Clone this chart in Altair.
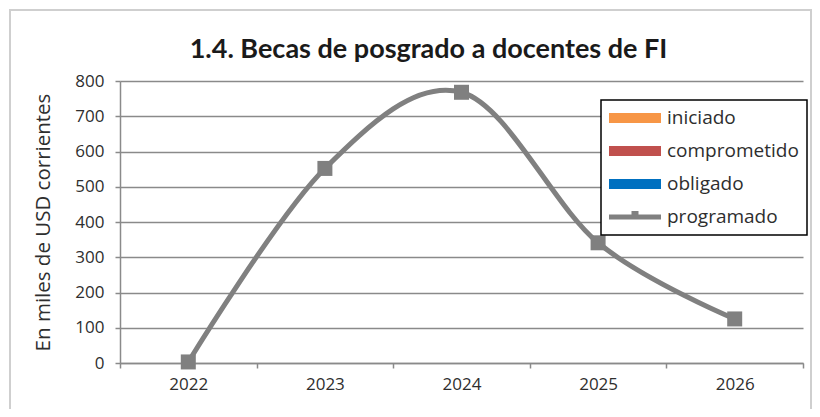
import altair as alt
import pandas as pd

years = ["2022", "2023", "2024", "2025", "2026"]
programado = [3, 552, 768, 341, 125]

series = ["iniciado", "comprometido", "obligado", "programado"]
series_colors = ["#F79646", "#C0504D", "#0070C0", "#808080"]

bar_shape = "M-1,-0.5H4.2V0.5H-1Z"
line_shape = "M-1,-0.25H1.25V-0.6H1.95V-0.25H4.2V0.25H-1Z"
series_shapes = [bar_shape, bar_shape, bar_shape, line_shape]

df = pd.DataFrame({"year": years, "value": programado, "serie": ["programado"] * len(years)})
frame_df = pd.DataFrame({"k": [0]})

FONT = "Open Sans"
TXT = "#2e2e2e"
GRID = "#8a8a8a"

x = alt.X("year:O", scale=alt.Scale(type="band", paddingInner=0, paddingOuter=0),
          axis=alt.Axis(title=None, labelAngle=0, tickBand="extent", grid=False,
                        domainColor=GRID, domainWidth=1.5, tickColor=GRID, tickWidth=1.5,
                        tickSize=5, labelPadding=8, labelFont=FONT, labelFontSize=17,
                        labelColor=TXT))
y = alt.Y("value:Q", scale=alt.Scale(domain=[0, 800], nice=False),
          axis=alt.Axis(title="En miles de USD corrientes", values=list(range(0, 801, 100)),
                        grid=True, gridColor=GRID, gridWidth=1.5,
                        domainColor=GRID, domainWidth=1.5, tickColor=GRID, tickWidth=1.5,
                        tickSize=5, labelPadding=11, labelFont=FONT, labelFontSize=17,
                        labelColor=TXT, titleFont=FONT, titleFontSize=20.5,
                        titleFontWeight="normal", titleColor=TXT, titlePadding=21))

frame = alt.Chart(frame_df).mark_rect(fill="white", fillOpacity=0, stroke="#cfcfcf",
                                      strokeWidth=2).encode(
    x=alt.value(-110), x2=alt.value(691), y=alt.value(-71), y2=alt.value(340))

line = alt.Chart(df).mark_line(interpolate="cardinal", color="#808080", strokeWidth=5).encode(x=x, y=y)
pts = alt.Chart(df).mark_square(size=225, color="#808080", opacity=1).encode(x=x, y=y)

legend_layer = alt.Chart(df).mark_point(filled=True, opacity=0).encode(
    x=x, y=y,
    color=alt.Color("serie:N", scale=alt.Scale(domain=series, range=series_colors),
                    legend=alt.Legend(title=None, orient="none", legendX=481, legendY=19)),
    shape=alt.Shape("serie:N", scale=alt.Scale(domain=series, range=series_shapes),
                    legend=alt.Legend(title=None, orient="none", legendX=481, legendY=19)),
)

chart = alt.layer(frame, line, pts, legend_layer).properties(
    width=683, height=282,
    title=alt.TitleParams("1.4. Becas de posgrado a docentes de FI", font="Lato",
                          fontSize=27, fontWeight="bold", color="#1a1a1a",
                          anchor="middle", dx=-33, offset=14, dy=69),
    autosize=alt.AutoSizeParams(type="none"),
    padding={"left": 112, "top": 73, "right": 9, "bottom": 46},
).configure_view(stroke=None).configure_legend(
    padding=8, strokeColor="#000000", strokeWidth=1.5, fillColor="white",
    labelFont=FONT, labelFontSize=19, labelColor=TXT, labelOffset=38,
    rowPadding=13, symbolSize=400, symbolOpacity=1, symbolStrokeWidth=0,
    cornerRadius=0,
)

chart.save("out.html", embed_options={"renderer": "svg", "actions": False})
